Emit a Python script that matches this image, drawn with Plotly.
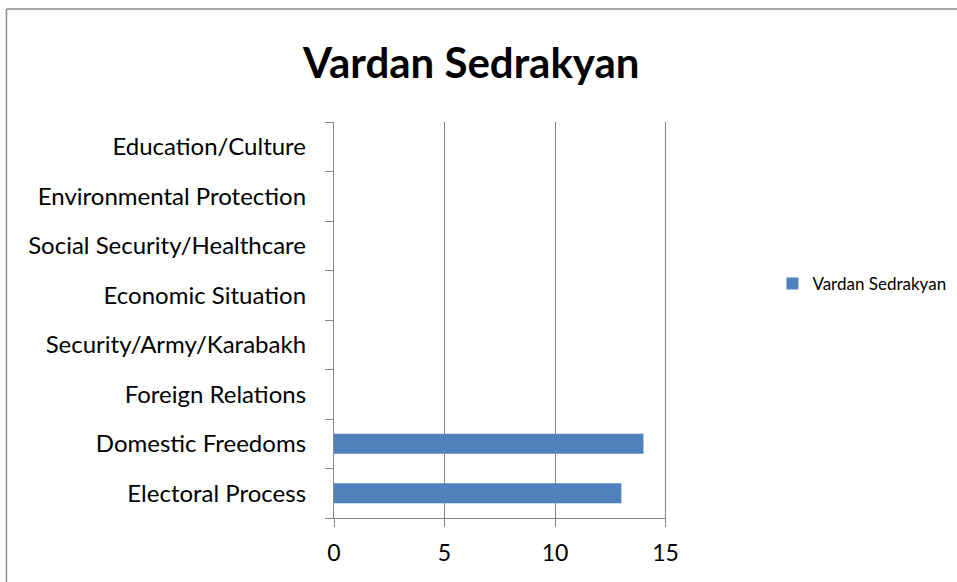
import plotly.graph_objects as go

categories = ["Electoral Process", "Domestic Freedoms", "Foreign Relations",
              "Security/Army/Karabakh", "Economic Situation",
              "Social Security/Healthcare", "Environmental Protection",
              "Education/Culture"]
values = [13, 14, 0, 0, 0, 0, 0, 0]
series_name = "Vardan Sedrakyan"
x_ticks = [0, 5, 10, 15]

FONT = "Lato"
GRID = "#868686"

fig = go.Figure()
fig.add_trace(go.Bar(
    y=categories, x=values, orientation="h", name=series_name,
    marker=dict(color="#4F81BD", line=dict(width=0)),
    showlegend=True,
))

W, H = 957, 582
L, X15, T, B = 334, 666, 122, 518
XMAX = 15.02
R = L + (X15 - L) / 15 * XMAX

def px(x):
    return (x - L) / (R - L)

def py(y):
    return (B - y) / (B - T)

fig.update_layout(
    width=W, height=H,
    margin=dict(l=L, r=W - R, t=T, b=H - B, autoexpand=False),
    paper_bgcolor="white", plot_bgcolor="white",
    font=dict(family=FONT, size=18, color="black"),
    bargap=0.6,
    showlegend=True,
    legend=dict(x=px(773), y=py(284),
                xanchor="left", yanchor="middle",
                font=dict(family=FONT, size=17, color="black"),
                itemwidth=30, bgcolor="rgba(0,0,0,0)"),
    xaxis=dict(range=[0, XMAX], tickvals=x_ticks, ticktext=[str(v) for v in x_ticks],
               showgrid=True, gridcolor=GRID, gridwidth=1.3,
               showline=True, linecolor=GRID, linewidth=1.3,
               ticks="outside", ticklen=8, tickcolor=GRID, tickwidth=1.3,
               ticklabelstandoff=6,
               zeroline=False, fixedrange=True,
               tickfont=dict(family=FONT, size=23)),
    yaxis=dict(categoryorder="array", categoryarray=categories,
               showgrid=False, showline=True, linecolor=GRID, linewidth=1.3,
               ticks="outside", tickson="boundaries", ticklen=8,
               tickcolor=GRID, tickwidth=1.3, ticklabelstandoff=22,
               zeroline=False, fixedrange=True,
               tickfont=dict(family=FONT, size=24)),
)

# gridline at the last tick (plotly drops it at the plot edge)
fig.add_shape(type="line", xref="x", yref="paper",
              x0=x_ticks[-1], x1=x_ticks[-1], y0=0, y1=1,
              line=dict(color=GRID, width=1.3), layer="below")

fig.add_annotation(
    text="<b>Vardan Sedrakyan</b>", xref="paper", yref="paper",
    x=px(471), y=py(62),
    xanchor="center", yanchor="middle", showarrow=False,
    font=dict(family=FONT, size=42, color="black"),
)

# chart frame
fig.add_shape(type="line", xref="paper", yref="paper",
              x0=px(6), x1=px(6), y0=py(9), y1=py(600),
              line=dict(color="#8C8C8C", width=1.5))
fig.add_shape(type="line", xref="paper", yref="paper",
              x0=px(6), x1=px(1000), y0=py(9), y1=py(9),
              line=dict(color="#8C8C8C", width=1.5))

fig.write_html("out.html",
               config={"displayModeBar": False},
               post_script="document.body.style.margin='0px';"
                           "document.body.style.overflow='hidden';")
